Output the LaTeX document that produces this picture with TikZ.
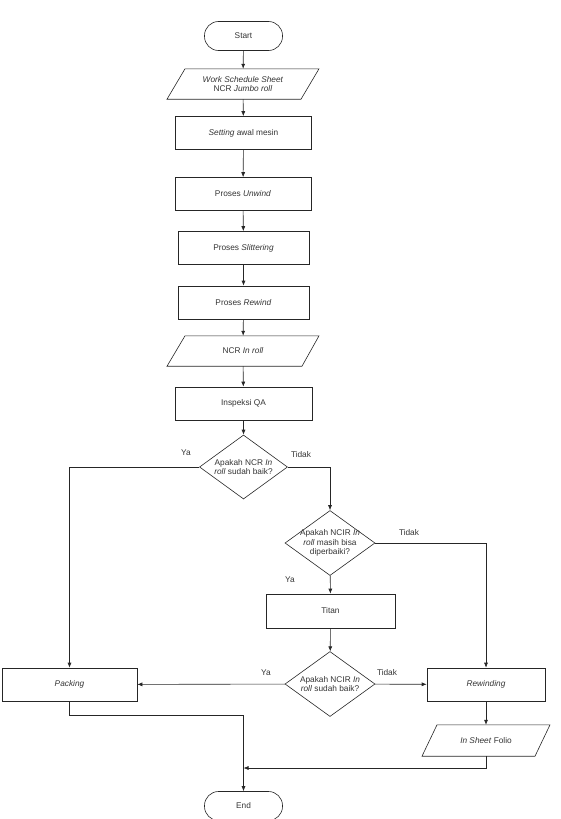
\documentclass[tikz,border=0pt]{standalone}
\usepackage{fontspec}
\setmainfont{Liberation Sans}
\usetikzlibrary{arrows.meta,shapes.geometric}
\begin{document}
\begin{tikzpicture}[x=1pt,y=-1pt,
  every node/.style={font=\fontsize{8.3}{9.6}\selectfont, text=black!80},
  line/.style={draw=black!85, line width=0.6pt},
  arr/.style={line, -{Latex[length=5pt,width=4pt]}},
  term/.style={line, rectangle, rounded corners=14pt, minimum width=78pt, minimum height=29pt},
  proc/.style={line, rectangle, minimum width=136pt, minimum height=33pt},
  dec/.style={line, diamond, aspect=1.4, inner sep=0pt, minimum width=88pt, minimum height=64pt},
  dtext/.style={align=center, inner sep=0pt},
  io/.style={rectangle, minimum width=134pt, minimum height=30pt, align=center},
  lab/.style={font=\fontsize{8.3}{9.6}\selectfont}
]
\useasboundingbox (0,0) rectangle (561,819);
\node[term] (start) at (243.5,36) {Start};
\node[io] (ws) at (243,84) {\textit{Work Schedule Sheet}\\NCR \textit{Jumbo roll}};
\draw[line] ([xshift=-58pt]ws.north) -- ([xshift=76pt]ws.north) -- ([xshift=58pt]ws.south) -- ([xshift=-76pt]ws.south) -- cycle;
\node[proc] (set) at (243.5,133) {\textit{Setting} awal mesin};
\node[proc] (unw) at (243,194) {Proses \textit{Unwind}};
\node[proc, minimum width=131pt] (sli) at (243.5,248) {Proses \textit{Slittering}};
\node[proc, minimum width=131pt] (rew) at (243.5,302.5) {Proses \textit{Rewind}};
\node[io] (ncr) at (243,351) {NCR \textit{In roll}};
\draw[line] ([xshift=-58pt]ncr.north) -- ([xshift=76pt]ncr.north) -- ([xshift=59pt]ncr.south) -- ([xshift=-76pt]ncr.south) -- cycle;
\node[proc, minimum width=137pt] (qa) at (243.5,403.5) {Inspeksi QA};
\node[dec, label={[dtext]center:Apakah NCR \textit{In}\\\textit{roll} sudah baik?}] (d1) at (243.5,467) {};
\node[dec, minimum width=90pt, minimum height=65pt, label={[dtext]center:Apakah NCIR \textit{In}\\\textit{roll} masih bisa\\diperbaiki?}] (d2) at (330,543) {};
\node[proc, minimum width=129pt, minimum height=34pt] (titan) at (330.5,611) {Titan};
\node[dec, minimum width=90pt, minimum height=65pt, label={[dtext]center:Apakah NCIR \textit{In}\\\textit{roll} sudah baik?}] (d3) at (330,684) {};
\node[proc, minimum width=135pt] (pack) at (69.5,684.5) {\textit{Packing}};
\node[proc, minimum width=118pt] (rwd) at (486,684.5) {\textit{Rewinding}};
\node[io, minimum width=113pt, minimum height=31pt] (sf) at (486,740.5) {\textit{In Sheet} Folio};
\draw[line] ([xshift=-49pt]sf.north) -- ([xshift=64pt]sf.north) -- ([xshift=49pt]sf.south) -- ([xshift=-64pt]sf.south) -- cycle;
\node[term] (end) at (243.5,806) {End};
\coordinate (j1) at (243.5,715);
\coordinate (j2) at (243.5,768);
% connectors
\draw[arr] (start) -- (ws);
\draw[arr] (ws) -- (set);
\draw[arr] (set) -- (unw);
\draw[arr] (unw) -- (sli);
\draw[arr] (sli) -- (rew);
\draw[arr] (rew) -- (ncr);
\draw[arr] (ncr) -- (qa);
\draw[arr] (qa) -- (d1);
\draw[arr] (d1.west) -| (pack.north);
\draw[arr] (d1.east) -| (d2.north);
\draw[arr] (d2.east) -| (rwd.north);
\draw[arr] (d2) -- (titan);
\draw[arr] (titan) -- (d3);
\draw[arr] (d3) -- (pack);
\draw[arr] (d3) -- (rwd);
\draw[arr] (rwd) -- (sf);
\draw[line] (pack.south) |- (j1) -- (j2);
\draw[arr] (sf.south) |- (j2);
\draw[arr] (j2) -- (end);
% labels
\node[lab] at (186,453) {Ya};
\node[lab] at (301,455) {Tidak};
\node[lab] at (409,533) {Tidak};
\node[lab] at (290,580) {Ya};
\node[lab] at (266,673) {Ya};
\node[lab] at (387,673) {Tidak};
\end{tikzpicture}
\end{document}
